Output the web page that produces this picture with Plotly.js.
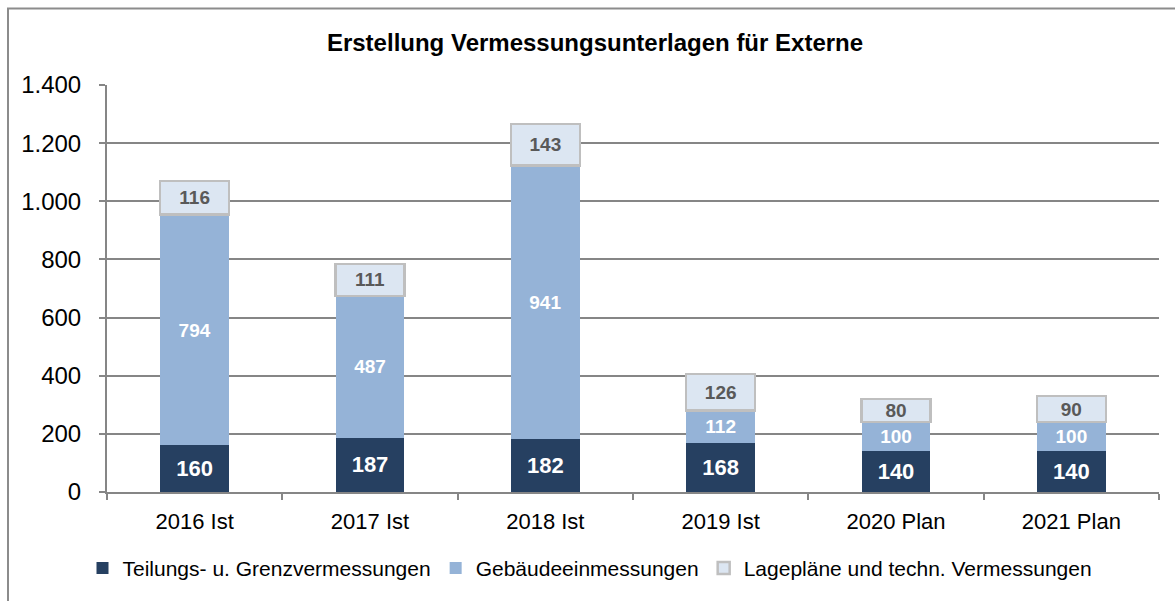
<!DOCTYPE html>
<html>
<head>
<meta charset="utf-8">
<script src="https://cdn.plot.ly/plotly-3.0.1.min.js"></script>
<style>html,body{margin:0;padding:0;background:#fff;}#chart{width:1175px;height:601px;}</style>
</head>
<body>
<div id="chart"></div>
<script>
const categories = ["2016 Ist", "2017 Ist", "2018 Ist", "2019 Ist", "2020 Plan", "2021 Plan"];
const teilung = [160, 187, 182, 168, 140, 140];
const gebaeude = [794, 487, 941, 112, 100, 100];
const lageplaene = [116, 111, 143, 126, 80, 90];
const seriesNames = ["Teilungs- u. Grenzvermessungen", "Gebäudeeinmessungen", "Lagepläne und techn. Vermessungen"];
const yTicks = [0, 200, 400, 600, 800, 1000, 1200, 1400];

const FONT = "Liberation Sans, Arial, sans-serif";
const GRID = "#868686";

const traces = [
  {
    type: "bar", name: seriesNames[0], x: categories, y: teilung,
    marker: {color: "#264061"},
    texttemplate: "%{y}", textposition: "inside", insidetextanchor: "middle",
    constraintext: "none",
    textfont: {family: FONT, size: 22, color: "#ffffff", weight: "bold"},
    hoverinfo: "none"
  },
  {
    type: "bar", name: seriesNames[1], x: categories, y: gebaeude,
    marker: {color: "#95b3d7"},
    texttemplate: "%{y}", textposition: "inside", insidetextanchor: "middle",
    constraintext: "none",
    textfont: {family: FONT, size: 19, color: "#ffffff", weight: "bold"},
    hoverinfo: "none"
  },
  {
    type: "bar", name: seriesNames[2], x: categories, y: lageplaene,
    marker: {color: "#dce6f2", line: {color: "#bfbfbf", width: 2.5}},
    texttemplate: "%{y}", textposition: "inside", insidetextanchor: "middle",
    constraintext: "none",
    textfont: {family: FONT, size: 19, color: "#595959", weight: "bold"},
    hoverinfo: "none"
  }
];

const L = 107, R = 1159, T = 85, B = 495, W = 1175, H = 601;
const pw = R - L, ph = B - T;

const layout = {
  width: W, height: H,
  margin: {l: L, r: W - R, t: T, b: H - B, pad: 0},
  paper_bgcolor: "#ffffff", plot_bgcolor: "#ffffff",
  separators: ",.",
  barmode: "stack", bargap: 0.607,
  font: {family: FONT, color: "#000000"},
  title: {
    text: "<b>Erstellung Vermessungsunterlagen für Externe</b>",
    font: {family: FONT, size: 24, color: "#000000"},
    x: 595 / W, xanchor: "center", xref: "container",
    y: 1 - 43 / H, yanchor: "middle", yref: "container"
  },
  xaxis: {
    type: "category",
    showline: true, linecolor: GRID, linewidth: 2,
    ticks: "outside", tickson: "boundaries", ticklen: 6, tickcolor: GRID, tickwidth: 2,
    tickfont: {family: FONT, size: 22, color: "#000000"},
    ticklabelstandoff: 9,
    showgrid: false, zeroline: false, fixedrange: true
  },
  yaxis: {
    range: [0, 1400], tickvals: yTicks, tickformat: ",d",
    showline: true, linecolor: GRID, linewidth: 2,
    showgrid: true, gridcolor: GRID, gridwidth: 2,
    ticks: "outside", ticklen: 6, tickcolor: GRID, tickwidth: 2,
    tickfont: {family: FONT, size: 24, color: "#000000"},
    ticklabelstandoff: 13,
    zeroline: false, fixedrange: true
  },
  legend: {
    orientation: "h", x: (590 - L) / pw, xanchor: "center", y: (B - 572) / ph, yanchor: "middle",
    font: {family: FONT, size: 21, color: "#000000"},
    traceorder: "normal", itemclick: false, itemdoubleclick: false,
    bgcolor: "rgba(0,0,0,0)"
  },
  showlegend: true,
  shapes: [{
    type: "rect", xref: "paper", yref: "paper", layer: "below",
    x0: (8 - L) / pw, x1: (1190 - L) / pw,
    y0: (B - 620) / ph, y1: 1 + (T - 8) / ph,
    line: {color: "#8c8c8c", width: 2}, fillcolor: "rgba(0,0,0,0)"
  }]
};

Plotly.newPlot("chart", traces, layout, {displayModeBar: false, staticPlot: true});
</script>
</body>
</html>
